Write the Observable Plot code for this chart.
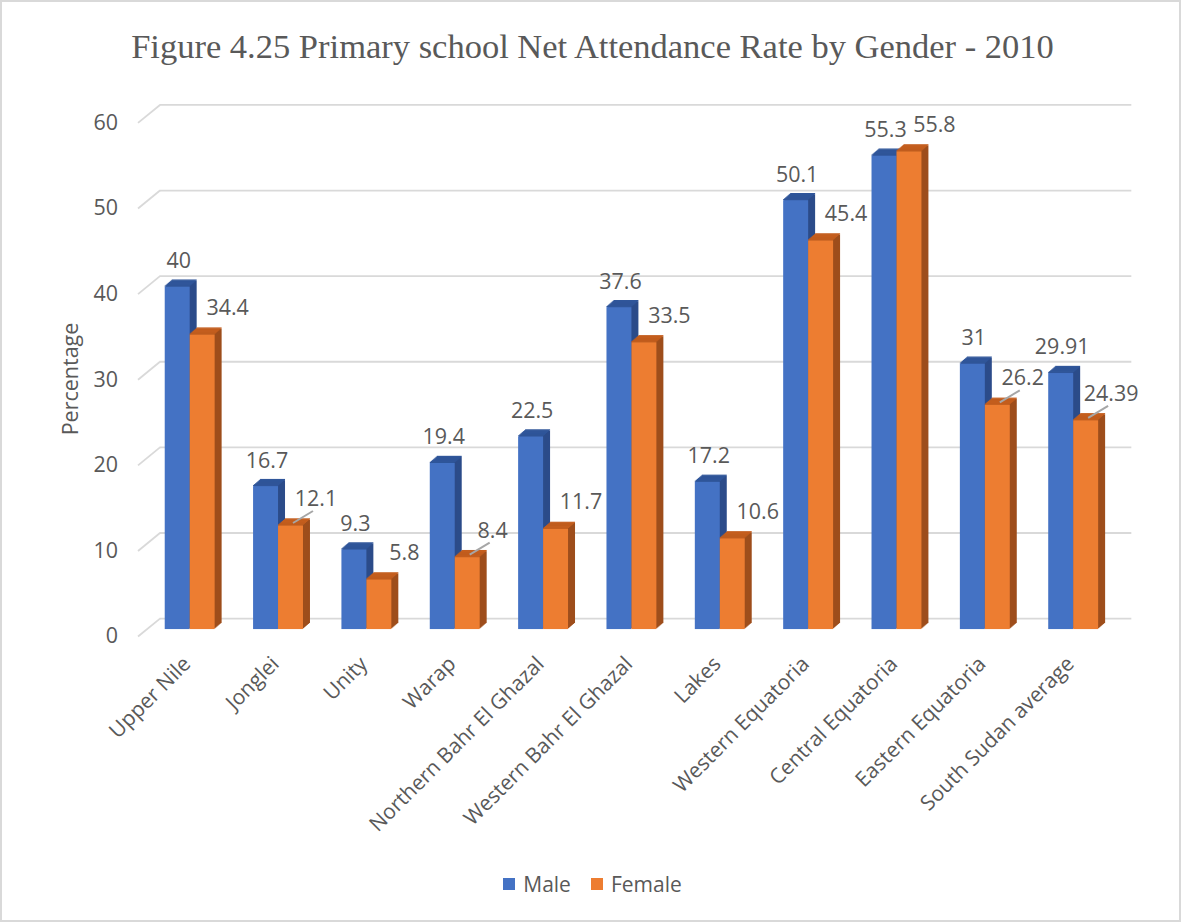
<!DOCTYPE html>
<html>
<head>
<meta charset="utf-8">
<script src="https://cdn.jsdelivr.net/npm/d3@7"></script>
<script src="https://cdn.jsdelivr.net/npm/@observablehq/plot@0.6"></script>
<style>
  html, body { margin: 0; padding: 0; background: #fff; }
  #wrap { position: relative; width: 1181px; height: 922px; box-sizing: border-box; border: 2px solid #d9d9d9; overflow: hidden; }
  #title { position: absolute; left: 0; top: 23px; width: 1181px; text-align: center; font-family: "Liberation Serif", "Times New Roman", serif; font-size: 34.5px; color: #595959; line-height: 42px; white-space: nowrap; }
  #chart { position: absolute; left: -2px; top: 78px; }
  #ytitle { position: absolute; left: 67px; top: 377px; transform: translate(-50%, -50%) rotate(-90deg); font-family: "Open Sans", sans-serif; font-size: 21.5px; color: #595959; white-space: nowrap; }
  #legend { position: absolute; left: 0; top: 868px; width: 1181px; height: 28px; display: flex; justify-content: center; align-items: center; gap: 20px; font-family: "Open Sans", sans-serif; font-size: 21px; color: #595959; }
  #legend span.sw { display: inline-block; width: 12px; height: 12px; margin-right: 8px; }
  #legend .item { display: flex; align-items: center; }
</style>
</head>
<body>
<div id="wrap">
  <div id="title">Figure 4.25 Primary school Net Attendance Rate by Gender - 2010</div>
  <div id="chart"></div>
  <div id="ytitle">Percentage</div>
  <div id="legend"></div>
</div>
<script>
// ---- Data ----
const categories = ["Upper Nile", "Jonglei", "Unity", "Warap", "Northern Bahr El Ghazal", "Western Bahr El Ghazal", "Lakes", "Western Equatoria", "Central Equatoria", "Eastern Equatoria", "South Sudan average"];
const male   = [40, 16.7, 9.3, 19.4, 22.5, 37.6, 17.2, 50.1, 55.3, 31, 29.91];
const female = [34.4, 12.1, 5.8, 8.4, 11.7, 33.5, 10.6, 45.4, 55.8, 26.2, 24.39];
// female data labels drawn with a leader line in the original
const femaleLeader = [false, true, false, true, false, false, false, false, false, true, true];
const seriesNames = ["Male", "Female"];
const yTicks = [0, 10, 20, 30, 40, 50, 60];

// ---- Styles ----
const colors = {
  Male:   {front: "#4472C4", side: "#2C4C8A", top: "#30569A"},
  Female: {front: "#ED7D31", side: "#9E4E1C", top: "#C45E1E"}
};
const textColor = "#595959";
const font = "Open Sans, sans-serif";

// ---- Geometry (pixels) ----
const W = 1181, H = 790;
const marginLeft = 145.75, marginRight = 61.75, marginTop = 35.5, marginBottom = 240;
const step = (W - marginLeft - marginRight) / categories.length; // px per category
const halfGroup = 25 / step;  // each bar 25 px wide
const depthX = 7, depthY = 6; // 3D extrusion
const gridDx = 14, gridDy = -11;
const pxPerUnit = (H - marginTop - marginBottom) / 60;

// ---- Build table ----
const rows = [];
categories.forEach((c, i) => {
  rows.push({cat: c, i, s: "Male", v: male[i], x1: i - halfGroup, x2: i});
  rows.push({cat: c, i, s: "Female", v: female[i], x1: i, x2: i + halfGroup, leader: femaleLeader[i]});
});

const marks = [];
// back gridlines
marks.push(Plot.ruleY(yTicks, {y: d => d, stroke: "#d9d9d9", strokeWidth: 1.8, dx: gridDx, dy: gridDy}));
// diagonal wall segments on the left
marks.push(Plot.link(yTicks, {
  x1: () => -0.5 - 8 / step,
  x2: () => -0.5 + gridDx / step,
  y1: d => d,
  y2: d => d + (7 - gridDy) / pxPerUnit,
  dy: 7,
  stroke: "#d9d9d9", strokeWidth: 1.8
}));

for (const s of seriesNames) {
  const data = rows.filter(r => r.s === s);
  const c = colors[s];
  // extrusion (side faces)
  for (let k = depthX; k >= 1; k--) {
    marks.push(Plot.rectY(data, {x1: "x1", x2: "x2", y1: 0, y2: "v", fill: c.side, dx: k, dy: -k * depthY / depthX}));
  }
  // top faces
  for (let k = 0; k <= depthX; k++) {
    marks.push(Plot.rectY(data, {x1: "x1", x2: "x2", y1: "v", y2: "v", insetTop: -1.2, fill: c.top, dx: k, dy: -k * depthY / depthX}));
  }
  // front faces
  marks.push(Plot.rectY(data, {x1: "x1", x2: "x2", y1: 0, y2: "v", fill: c.front}));
}

// leader lines for some female labels
marks.push(Plot.link(rows.filter(r => r.s === "Female" && r.leader), {
  x1: d => d.i + halfGroup / 2 + 2 / step,
  x2: d => d.i + halfGroup / 2 + 22 / step,
  y1: "v",
  y2: d => d.v + 12 / pxPerUnit,
  dy: -3,
  stroke: "#a6a6a6", strokeWidth: 2
}));

// value labels
marks.push(Plot.text(rows.filter(r => r.s === "Male"), {
  x: d => d.i - halfGroup / 2, y: "v", text: d => String(d.v), dy: -26, dx: 1,
  fill: textColor, fontSize: 21.5, fontFamily: font
}));
marks.push(Plot.text(rows.filter(r => r.s === "Female"), {
  x: d => d.i + halfGroup / 2, y: "v", text: d => String(d.v), dy: -27, dx: 25,
  fill: textColor, fontSize: 21.5, fontFamily: font
}));

// y tick labels
marks.push(Plot.text(yTicks, {
  x: () => -0.5, y: d => d, text: d => String(d), dx: -28, dy: 7, textAnchor: "end",
  fill: textColor, fontSize: 21.5, fontFamily: font
}));

// category labels
marks.push(Plot.text(categories, {
  x: (d, i) => i, y: () => 0, text: d => d, rotate: -45, textAnchor: "end",
  dx: -3, dy: 31, fill: textColor, fontSize: 21, fontFamily: font
}));

const chart = Plot.plot({
  width: W, height: H,
  marginLeft, marginRight, marginTop, marginBottom,
  x: {type: "linear", domain: [-0.5, categories.length - 0.5], axis: null},
  y: {domain: [0, 60], axis: null},
  style: {background: "transparent", overflow: "visible"},
  marks
});
document.getElementById("chart").appendChild(chart);

// legend
const legend = document.getElementById("legend");
for (const s of seriesNames) {
  const item = document.createElement("div");
  item.className = "item";
  item.innerHTML = `<span class="sw" style="background:${colors[s].front}"></span>${s}`;
  legend.appendChild(item);
}
</script>
</body>
</html>
